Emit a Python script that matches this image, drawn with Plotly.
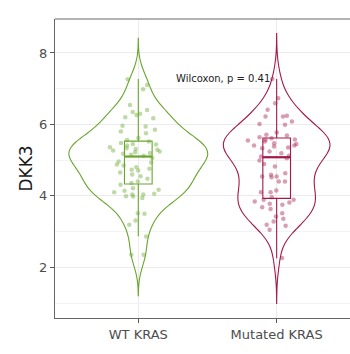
import numpy as np
import plotly.graph_objects as go

categories = ["WT KRAS", "Mutated KRAS"]

wt_values = [7.26, 7.10, 6.98, 6.54, 6.40, 6.35, 6.30, 6.26, 6.20, 6.17, 5.96, 5.94, 5.85, 5.80, 5.75, 5.62, 5.56,
             5.52, 5.48, 5.45, 5.44, 5.41, 5.36, 5.33, 5.31, 5.29, 5.27, 5.24, 5.22, 5.20, 5.18, 5.15, 5.12,
             5.06, 4.96, 4.93, 4.88, 4.85, 4.80, 4.76, 4.73, 4.71, 4.65, 4.60, 4.55, 4.48, 4.40, 4.36,
             4.31, 4.21, 4.17, 4.14, 4.10, 4.06, 4.04, 4.04, 3.99, 3.98, 3.94, 3.51, 3.50, 3.31, 3.19, 2.86, 2.35, 2.35]

mut_values = [7.27, 6.73, 6.59, 6.41, 6.24, 6.22, 6.22, 6.08, 6.01, 5.99, 5.77, 5.71, 5.69, 5.64,
              5.61, 5.58, 5.57, 5.55, 5.52, 5.47, 5.45, 5.41, 5.41, 5.38, 5.35, 5.33, 5.24, 5.19, 5.12, 5.10,
              5.05, 4.99, 4.89, 4.82, 4.63, 4.59, 4.54, 4.54, 4.52, 4.40, 4.40, 4.15, 4.10, 4.10, 3.96,
              3.89, 3.89, 3.84, 3.81, 3.78, 3.75, 3.68, 3.63, 3.51, 3.42, 3.36, 3.28, 3.19, 3.16, 3.05, 2.26]

# box statistics
box_q1 = [4.33, 3.93]
box_median = [5.10, 5.08]
box_q3 = [5.53, 5.62]
box_low = [2.87, 2.25]
box_high = [7.27, 7.27]

p_label = "Wilcoxon, p = 0.41"

line_colors = ["#6AA62D", "#A3194A"]
point_colors = ["rgba(106,166,45,0.42)", "rgba(163,25,74,0.42)"]
violin_widths = [1.0, 0.77]
jitters = [0.45, 0.58]


def nrd0(x):
    x = np.asarray(x, dtype=float)
    sd = np.std(x, ddof=1)
    iqr = np.subtract(*np.percentile(x, [75, 25]))
    lo = min(sd, iqr / 1.34)
    return 0.9 * lo * len(x) ** (-0.2)


fig = go.Figure()
groups = [wt_values, mut_values]
for i, vals in enumerate(groups):
    pos = i + 1
    bw = nrd0(vals)
    fig.add_trace(go.Violin(
        x0=pos, y=vals, bandwidth=bw, spanmode="manual",
        span=[min(vals) - 3 * bw, max(vals) + 3 * bw],
        scalemode="width", width=violin_widths[i],
        line=dict(color=line_colors[i], width=1.1),
        fillcolor="rgba(0,0,0,0)",
        points="all", pointpos=0, jitter=jitters[i],
        marker=dict(color=point_colors[i], size=4.5, line=dict(width=0)),
        box_visible=False, meanline_visible=False, showlegend=False,
        hoverinfo="skip",
    ))
    fig.add_trace(go.Box(
        x=[pos], q1=[box_q1[i]], median=[box_median[i]], q3=[box_q3[i]],
        lowerfence=[box_low[i]], upperfence=[box_high[i]],
        width=0.2, whiskerwidth=0, boxpoints=False,
        line=dict(color=line_colors[i], width=1.1),
        fillcolor="rgba(0,0,0,0)", showlegend=False, hoverinfo="skip",
    ))
    fig.add_trace(go.Scatter(
        x=[pos - 0.1, pos + 0.1], y=[box_median[i], box_median[i]],
        mode="lines", line=dict(color=line_colors[i], width=2.2),
        showlegend=False, hoverinfo="skip",
    ))

fig.add_annotation(
    x=1.258, y=7.29, xref="x", yref="y", text=p_label, showarrow=False,
    xanchor="left", yanchor="middle",
    font=dict(family="DejaVu Sans", size=10, color="#222222"),
)

# top panel border (the right border lies outside the cropped picture)
fig.add_shape(type="line", xref="paper", yref="paper", x0=0, x1=1.02, y0=1, y1=1,
              line=dict(color="#666666", width=1), layer="above")

fig.update_layout(
    width=350, height=354,
    margin=dict(l=55, r=0, t=19, b=36),
    paper_bgcolor="white", plot_bgcolor="white",
    font=dict(family="DejaVu Sans"),
    xaxis=dict(
        range=[0.398, 2.530], tickmode="array", tickvals=[1, 2], ticktext=categories,
        showgrid=True, gridcolor="#EBEBEB", gridwidth=1, zeroline=False,
        showline=True, linecolor="#666666", linewidth=1, mirror=False,
        ticks="outside", ticklen=4, tickcolor="#555555",
        tickfont=dict(size=13, color="#4D4D4D"), automargin=False,
    ),
    yaxis=dict(
        range=[0.58, 8.95], tickmode="array", tickvals=[2, 4, 6, 8],
        showgrid=True, gridcolor="#EBEBEB", gridwidth=1, zeroline=False,
        minor=dict(tickmode="array", tickvals=[1, 3, 5, 7], showgrid=True,
                   gridcolor="#F3F3F3", gridwidth=0.8),
        showline=True, linecolor="#666666", linewidth=1,
        ticks="outside", ticklen=4, tickcolor="#555555",
        tickfont=dict(size=13, color="#4D4D4D"), automargin=False,
        title=dict(text="DKK3", font=dict(size=17, color="#1A1A1A"), standoff=2),
    ),
)

fig.write_html("out.html", config={"displayModeBar": False},
               post_script="document.body.style.margin='0px';document.body.style.overflow='hidden';")
